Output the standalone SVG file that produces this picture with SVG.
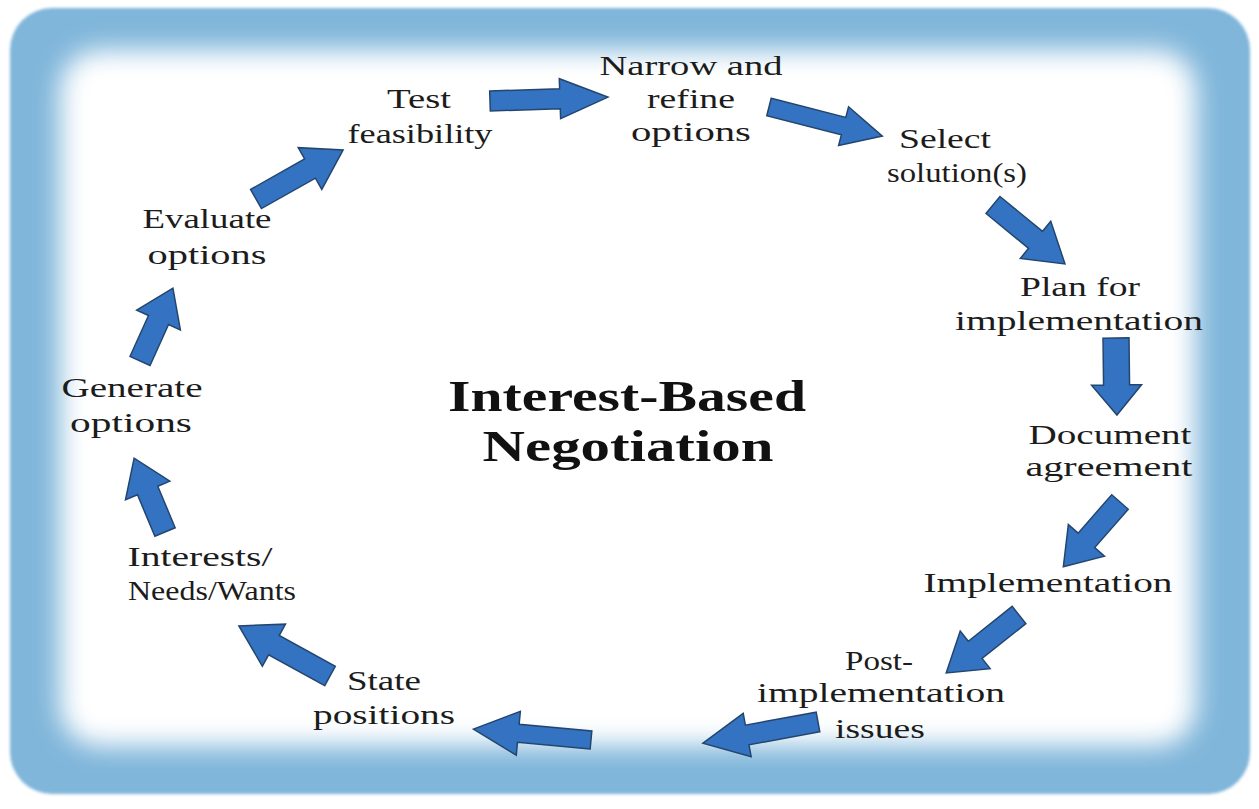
<svg xmlns="http://www.w3.org/2000/svg" width="1259" height="809" viewBox="0 0 1259 809">
<defs>
<filter id="soft" x="-5%" y="-5%" width="110%" height="110%"><feGaussianBlur stdDeviation="1.5"/></filter>
<filter id="glow" x="-10%" y="-10%" width="120%" height="120%"><feGaussianBlur stdDeviation="13"/></filter>
<style>
.lbl{font-family:"Liberation Serif","Times New Roman",serif;font-size:28px;fill:#1c1c1c;text-anchor:middle}
.ttl{font-family:"Liberation Serif","Times New Roman",serif;font-size:45px;font-weight:bold;fill:#111;text-anchor:middle}
.arr{fill:#3373c2;stroke:#24466e;stroke-width:1.5;stroke-linejoin:miter}
</style>
</defs>
<rect width="1259" height="809" fill="#ffffff"/>
<g id="frame">
<rect x="10" y="8" width="1240" height="786" rx="42" fill="#80b6da" filter="url(#soft)"/>
<rect x="60" y="50" width="1136" height="696" rx="40" fill="#ffffff" filter="url(#glow)"/>
</g>
<g id="title">
<text class="ttl" x="627" y="411" textLength="358" lengthAdjust="spacingAndGlyphs">Interest-Based</text>
<text class="ttl" x="628" y="461" textLength="291" lengthAdjust="spacingAndGlyphs">Negotiation</text>
</g>
<g id="connectors">
<path class="arr" transform="translate(490,101) rotate(-1.9)" d="M0,-10 L70,-10 L70,-20 L118,0 L70,20 L70,10 L0,10 Z"/>
<path class="arr" transform="translate(769,107) rotate(14.4)" d="M0,-9 L77,-9 L77,-20 L117,0 L77,20 L77,9 L0,9 Z"/>
<path class="arr" transform="translate(993,205) rotate(39.3)" d="M0,-11 L55,-11 L55,-24 L93,0 L55,24 L55,11 L0,11 Z"/>
<path class="arr" transform="translate(1116,338) rotate(89.3)" d="M0,-13 L47,-13 L47,-25 L77,0 L47,25 L47,13 L0,13 Z"/>
<path class="arr" transform="translate(1120,502) rotate(131.2)" d="M0,-11 L51,-11 L51,-24 L86,0 L51,24 L51,11 L0,11 Z"/>
<path class="arr" transform="translate(1019,615) rotate(141.5)" d="M0,-11 L56,-11 L56,-24 L93,0 L56,24 L56,11 L0,11 Z"/>
<path class="arr" transform="translate(818,722) rotate(169.6)" d="M0,-10 L72,-10 L72,-22 L117,0 L72,22 L72,10 L0,10 Z"/>
<path class="arr" transform="translate(591,740) rotate(185.3)" d="M0,-9 L73,-9 L73,-22 L118,0 L73,22 L73,9 L0,9 Z"/>
<path class="arr" transform="translate(330,676) rotate(208.8)" d="M0,-11 L64,-11 L64,-24 L104,0 L64,24 L64,11 L0,11 Z"/>
<path class="arr" transform="translate(165,532) rotate(247.3)" d="M0,-11 L45,-11 L45,-24 L80,0 L45,24 L45,11 L0,11 Z"/>
<path class="arr" transform="translate(140,361) rotate(-65.7)" d="M0,-11 L45,-11 L45,-24 L80,0 L45,24 L45,11 L0,11 Z"/>
<path class="arr" transform="translate(256,199) rotate(-29.4)" d="M0,-11 L62,-11 L62,-24 L100,0 L62,24 L62,11 L0,11 Z"/>
</g>
<g id="test-feasibility">
<text class="lbl" x="419" y="108" textLength="64" lengthAdjust="spacingAndGlyphs">Test</text>
<text class="lbl" x="420" y="143" textLength="145" lengthAdjust="spacingAndGlyphs">feasibility</text>
</g>
<g id="narrow-refine">
<text class="lbl" x="691" y="75" textLength="183" lengthAdjust="spacingAndGlyphs">Narrow and</text>
<text class="lbl" x="691" y="108" textLength="88" lengthAdjust="spacingAndGlyphs">refine</text>
<text class="lbl" x="691" y="141" textLength="120" lengthAdjust="spacingAndGlyphs">options</text>
</g>
<g id="select-solution">
<text class="lbl" x="945" y="148" textLength="92" lengthAdjust="spacingAndGlyphs">Select</text>
<text class="lbl" x="957" y="182" textLength="140" lengthAdjust="spacingAndGlyphs">solution(s)</text>
</g>
<g id="plan-implementation">
<text class="lbl" x="1080" y="296" textLength="120" lengthAdjust="spacingAndGlyphs">Plan for</text>
<text class="lbl" x="1079" y="330" textLength="248" lengthAdjust="spacingAndGlyphs">implementation</text>
</g>
<g id="document-agreement">
<text class="lbl" x="1110" y="444" textLength="163" lengthAdjust="spacingAndGlyphs">Document</text>
<text class="lbl" x="1109" y="476" textLength="167" lengthAdjust="spacingAndGlyphs">agreement</text>
</g>
<g id="implementation">
<text class="lbl" x="1048" y="592" textLength="249" lengthAdjust="spacingAndGlyphs">Implementation</text>
</g>
<g id="post-implementation">
<text class="lbl" x="879" y="670" textLength="68" lengthAdjust="spacingAndGlyphs">Post-</text>
<text class="lbl" x="881" y="702" textLength="248" lengthAdjust="spacingAndGlyphs">implementation</text>
<text class="lbl" x="880" y="738" textLength="90" lengthAdjust="spacingAndGlyphs">issues</text>
</g>
<g id="state-positions">
<text class="lbl" x="384" y="690" textLength="74" lengthAdjust="spacingAndGlyphs">State</text>
<text class="lbl" x="384" y="724" textLength="142" lengthAdjust="spacingAndGlyphs">positions</text>
</g>
<g id="interests-needs-wants">
<text class="lbl" x="200" y="566" textLength="145" lengthAdjust="spacingAndGlyphs">Interests/</text>
<text class="lbl" x="212" y="600" textLength="168" lengthAdjust="spacingAndGlyphs">Needs/Wants</text>
</g>
<g id="generate-options">
<text class="lbl" x="132" y="397" textLength="141" lengthAdjust="spacingAndGlyphs">Generate</text>
<text class="lbl" x="131" y="432" textLength="122" lengthAdjust="spacingAndGlyphs">options</text>
</g>
<g id="evaluate-options">
<text class="lbl" x="207" y="228" textLength="129" lengthAdjust="spacingAndGlyphs">Evaluate</text>
<text class="lbl" x="207" y="264" textLength="119" lengthAdjust="spacingAndGlyphs">options</text>
</g>
</svg>
